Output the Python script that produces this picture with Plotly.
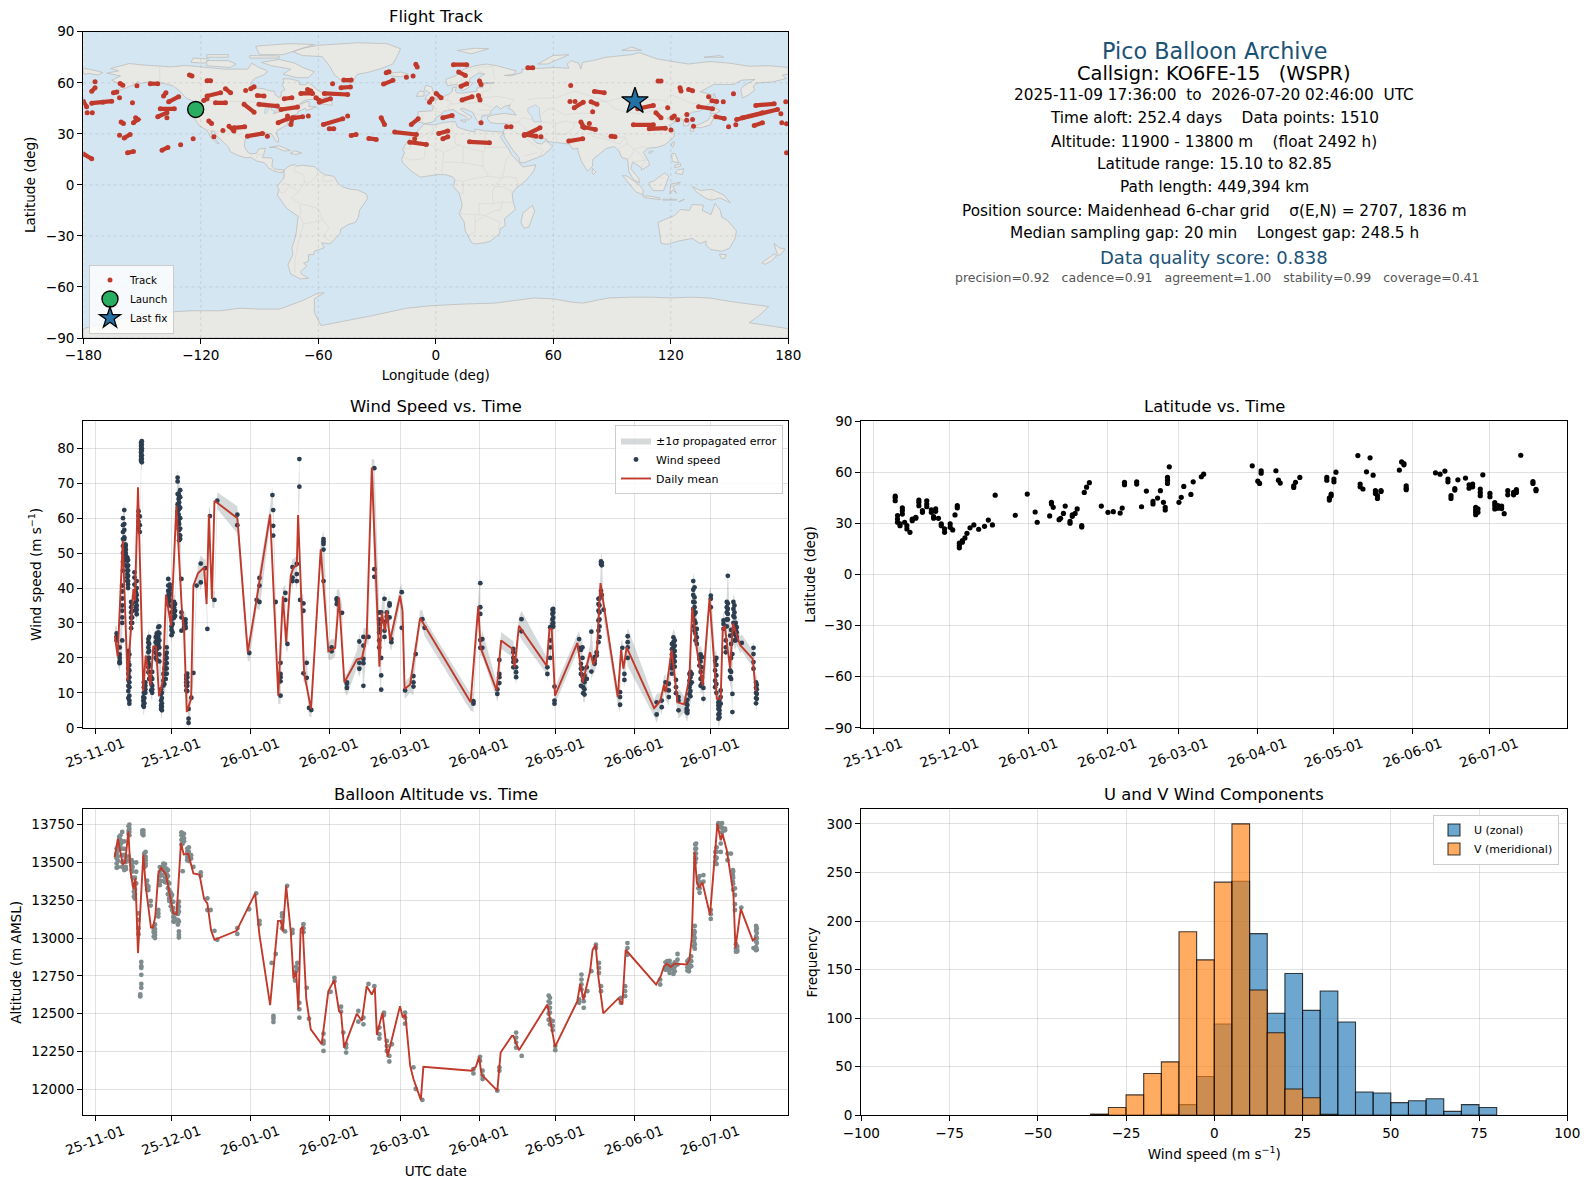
import pandas as pd
import plotly.graph_objects as go

W, H = 1589, 1189
FONT = "DejaVu Sans"
BASE = pd.Timestamp("2025-11-01")

# ---------- text panel ----------
panel_lines = [
    ("Pico Balloon Archive", 22.3, "#1a5276", 50.7, 0),
    ("Callsign: KO6FE-15\u00a0\u00a0\u00a0(WSPR)", 19.4, "#000000", 73, 0),
    ("2025-11-09 17:36:00\u00a0\u00a0to\u00a0\u00a02026-07-20 02:46:00\u00a0\u00a0UTC", 15.3, "#000000", 95.2, 0),
    ("Time aloft: 252.4 days\u00a0\u00a0\u00a0\u00a0Data points: 1510", 15.3, "#000000", 118.3, 0),
    ("Altitude: 11900 - 13800 m\u00a0\u00a0\u00a0\u00a0(float 2492 h)", 15.3, "#000000", 141.7, 0),
    ("Latitude range: 15.10 to 82.85", 15.3, "#000000", 164, 0),
    ("Path length: 449,394 km", 15.3, "#000000", 187.3, 0),
    ("Position source: Maidenhead 6-char grid\u00a0\u00a0\u00a0\u00a0\u03c3(E,N) = 2707, 1836 m", 15.3, "#000000", 210.6, 0),
    ("Median sampling gap: 20 min\u00a0\u00a0\u00a0\u00a0Longest gap: 248.5 h", 15.3, "#000000", 233, 0),
    ("Data quality score: 0.838", 18, "#1a5276", 257.4, 0),
    ("precision=0.92\u00a0\u00a0\u00a0cadence=0.91\u00a0\u00a0\u00a0agreement=1.00\u00a0\u00a0\u00a0stability=0.99\u00a0\u00a0\u00a0coverage=0.41", 12.5, "#555555", 277.7, 3.5),
]

# ---------- histogram ----------
hist_bin_left = [-35, -30, -25, -20, -15, -10, -5, 0, 5, 10, 15, 20, 25, 30, 35, 40, 45, 50, 55, 60, 65, 70, 75]
u_counts = [1, 0, 0, 0, 1, 11, 40, 94, 241, 187, 105, 146, 108, 128, 96, 24, 23, 13, 15, 17, 4, 11, 8]
v_counts = [1, 8, 21, 43, 55, 189, 160, 240, 300, 129, 85, 27, 18, 1, 0, 0, 0, 0, 0, 0, 0, 0, 0]

# ---------- wind speed: days since 2025-11-01, values m/s ----------
wind_days = [8.4, 9.6, 10.6, 11.4, 12, 12.6, 13.4, 14.5, 15.4, 16, 17, 18, 18.9, 19.7, 20.9, 22, 23.8, 24.8, 25.9, 26.8,
             27.7, 28.7, 29.7, 30.4, 31.4, 32.4, 33, 33.9, 35, 35.8, 36.7, 37.8, 38.6, 39.9, 41.5, 43.4, 44.1, 45.1, 46.9,
             48, 55.9, 60.6, 63.5, 64.6, 69.7, 70, 71, 72.9, 74.8, 75.6, 77.6, 79.3, 80.3, 80.6, 81.9, 83.2, 84.1, 85,
             89.8, 93, 95, 97.1, 99, 103.9, 105.5, 107.5, 109.8, 111.7, 112.5, 113.8, 114.7, 115.8, 116.5, 120.6, 121.9,
             125.2, 126.1, 128.7, 129.6, 148.8, 151.5, 152.3, 158.2, 159, 164.5, 165.6, 167.7, 177.9, 179, 179.9, 180.7,
             190.4, 191.1, 192, 193.4, 195.2, 196.5, 197.3, 198, 199, 200, 206.5, 207.4, 208.2, 209.5, 220.9, 222.9,
             224.4, 225.7, 227.5, 228.5, 229.5, 232.7, 233.8, 234.7, 235.8, 236.7, 237.7, 238.7, 239.3, 242.2, 243.9,
             245.2, 246.1, 247.2, 248.1, 248.9, 249.8, 250.7, 251.5, 252.4, 254.4, 259, 260.3,
             10.9, 11.9, 12.9, 13, 14.1, 16.3, 17.5, 18.3, 19.1, 19.3, 21.2, 22.4, 24.2, 25.2, 26.2, 27.2, 28.1, 28.9, 29.3, 30, 31, 32.8, 33.4, 35.5, 36.2,
             226.9, 228, 233, 234.2, 235.3, 236.2, 238.2, 244.4, 245.6, 248.5, 250.2, 251.1, 252, 260, 199.3, 198.4, 180.2, 192.5, 191.7]
wind_values = [
    [27, 26, 25], [23, 21, 20, 19, 18.7, 18.5], [40.7, 39, 37, 35, 33.5, 31.6, 30, 25], [62.3, 58.3, 56.6, 54.5, 54],
    [52, 51, 50, 48.8], [48.8, 47.8, 46, 45, 44, 43, 42], [21, 18, 16.4, 14.5, 13, 11.6, 9.2, 7.8, 6.9], [35.4, 33.5, 31.6, 30],
    [44.5, 43, 41], [38.8, 37, 36, 34.5, 33.5], [62, 60.7, 59, 57], [81.6, 80.7, 79.8, 78.8, 77.8, 76.9, 76.4], [8.8, 7.8, 6.4],
    [13, 12, 11, 10], [25.4, 24.5, 23, 21.6, 20, 18.8, 17.3, 15.9], [14.5, 12.6, 10.7], [26, 24.5, 23, 21.6, 20], [28.8, 27.3, 26, 24],
    [11, 9.7, 7.8, 6.4, 5.4], [15.4, 13.5, 12.1], [21, 19.7, 18.3, 16.9, 15.4, 14], [42.6, 40.7, 39.2, 37.8, 35.9], [40, 38.3, 36.4],
    [34.5, 31.6, 29.7, 27.3], [35.4, 33.5, 32], [71.6, 70.5, 66.9, 64, 62], [66.4, 64.5, 62.6, 58.3, 56.6, 55.2, 53.7], [42.6, 33, 31.6, 27.8],
    [30.5, 29.7, 28.8], [15, 14, 13, 12, 10.7], [5.4, 2.6, 1.4], [8.6], [15.7], [40.7], [41.6, 47], [45.7], [28.3], [60.6], [36.6],
    [65], [61, 58], [21.4], [36.6], [42.9, 40.7, 36], [66.6], [62.3, 57.8, 55], [36], [18.6, 15.4, 14.5, 13.3, 9.2], [38.6, 36.6], [24],
    [46, 43, 42], [46.9, 44, 42], [76.9, 69], [36.6], [35.6, 33.5, 15.6], [18.6, 14.3], [5.7], [5.1],
    [54, 53.3, 52.6, 51, 42], [23, 21.9], [37, 36.6, 35.4], [32.9], [13, 12.6, 11.4], [24.7, 18.6, 16.9], [26, 23.5, 19.7, 18.5, 12], [26],
    [74.3, 45.4, 43.2], [33, 31, 29.7, 28.3, 27.3, 25, 23], [33, 20, 15, 10.9], [36.9, 30.2, 27.8, 26], [33, 31.8, 30.7], [35.6, 35, 31.6], [25.4, 24.5],
    [38.8, 28.6], [10.7], [14.8, 13, 11.8], [21.1], [31.1], [28.6],
    [7.6, 6.9], [41.4, 34.5, 32.6, 25.1, 22.9], [25.4, 22.9], [11, 9.7], [19.4, 15.4, 14.5, 12.8], [22.6, 21.6, 20, 18.8, 17.3], [19.2, 17.3, 15.9, 14.5],
    [31.1, 27.6], [17.3, 15.4], [28.8, 25, 23, 20], [33.8, 32.6, 31, 29.7, 28.8], [11.8, 7.8, 6.9],
    [25.4, 22.9], [22.3, 18.3, 16.9, 15.4, 12], [14.5, 13.5, 11.6, 9.9], [17.3, 14], [27.5, 16.1], [20.2, 19.2, 18.3], [21.6, 20.7],
    [36.9, 35.4, 33.5, 30.7, 27.8, 24.5], [47.6, 46.9, 39.2], [33.8], [10.2, 8.8, 6.6], [22.9], [15.4, 13.7], [26.2, 24.5, 23, 20], [7.3, 3.8], [7.8, 5.9],
    [13, 11], [12.6, 10.7, 8.8], [25.9, 24.5, 23, 21.6, 20, 18.8], [13.7, 11.6, 9.9], [8.8, 7.8, 5], [6.9, 5.4, 4.5], [15.4, 13.5, 11.6, 9.7], [15.4, 13],
    [40.2, 37.3, 35.9, 34.5, 32.6, 30.7, 27.8], [28.3, 25.9, 24], [20.7, 19.7, 17.8], [20.2, 17.3, 14.5, 12.6], [11.4, 8.3], [37.8, 36.9, 34.5], [19.2, 16.4, 13.5, 11.6],
    [7.3, 6.4, 5.4, 3.8, 2.6], [10.7, 8.8, 6.9], [30.7, 29.7, 28.3], [25, 23, 21.6], [43.5, 35.6, 34, 32.6, 31], [26.4, 16.4, 14.5], [21.1, 9.7, 4.5],
    [35, 33, 31.6, 29.7, 25], [28.8, 27.3, 26], [24.3], [22.9, 21.1, 18.8, 16.9], [12.3, 11, 9.7, 8.3],
    [60, 58, 56, 54, 52, 50, 47.5, 45], [52.5, 51, 49.5, 48, 46.5], [48, 46.5, 45, 43.5, 42, 41, 40], [22, 20, 19, 17, 15.5, 13.7, 12, 10.5, 8.5], [36, 34.5, 33, 31.5, 30, 28.5],
    [42, 40, 38, 36.5, 35, 33.8, 32.5], [56, 58, 60.5], [82, 81, 80, 79.3, 78, 77, 76], [13, 11.5, 10, 8.5, 7.2, 6], [12, 10, 8.5, 7], [26, 24, 22, 20, 18, 16, 14], [16, 14, 12, 11, 10],
    [27, 25.5, 24, 22.5, 21, 19.5], [29, 27, 25, 23, 21, 19], [10, 8.5, 7, 6, 5], [17, 15.5, 14, 12.5], [23, 21.5, 20, 18.5, 17, 15.5], [39, 38, 37, 36.5, 35], [41, 39.5, 38], [33, 31, 29, 28, 26.5],
    [36, 34.5, 33, 31.5], [67, 65.5, 63.5, 61, 59, 57], [68, 66, 63, 60, 57, 55, 54], [31, 30, 29, 28.5], [15.5, 14.5, 13, 12, 10.5],
    [24, 22.5, 21, 19.5, 18, 17, 15.5], [25, 23.5, 22, 20.5, 19, 17.5], [8, 6.5, 5, 4.2], [16, 14.5, 12.5, 10.5, 9], [42, 39.5, 38, 36, 34, 32, 29], [33, 30, 27, 25], [21, 19, 16, 14, 12],
    [20, 18, 15, 12.5, 10], [8, 7, 6, 5, 4, 3], [36, 34.5, 33, 31, 29], [28, 24, 20, 16, 14], [36, 34, 32, 30, 27], [30, 28, 26.5, 25], [13, 11.5, 10, 8.5, 7], [47.2, 46.5, 38],
    [37, 35, 33, 31, 29, 26], [34, 33, 31.5, 30, 29], [15, 13, 11, 9.5], [23, 20, 17, 15],
]
wind_mean_days = [7.7, 8.8, 10.8, 12.7, 15, 15.6, 16.8, 18.9, 19.8, 21.7, 22.8, 23.9, 25.1, 26.6, 27.8, 29.8, 31.9, 34, 34.9, 36, 37.7,
                  38.6, 40.4, 42.8, 43.8, 44.7, 45.9, 46.9, 55.9, 60, 63.5, 68.8, 72, 73.8, 75.1, 76.9, 78, 79.3, 79.8, 82.2, 84.9, 88.7,
                  91.7, 94.4, 95.9, 98, 102.9, 105, 106.8, 108.8, 111.8, 112.7, 114, 114.7, 116, 119.9, 120.9, 121.7, 123.9, 127.8, 147.7,
                  150.7, 151.6, 157.9, 159.7, 164.1, 165, 166.7, 177.6, 178.7, 179.6, 180.9, 189.7, 191.8, 194.7, 196, 197.3, 198.8, 205.6,
                  206.9, 207.8, 209.1, 219.9, 222.3, 223.8, 224.5, 226.8, 229.1, 231.7, 233.8, 234.9, 236.7, 239, 241.7, 244.6, 246.1,
                  246.9, 247.7, 249.8, 250.9, 253.7, 258.7, 259.9]
wind_mean_values = [26.4, 20.4, 53.5, 13.5, 39.7, 36.4, 68.8, 10.5, 20.7, 12.1, 23.2, 23.2, 9, 13.5, 38.1, 29.2, 63.5, 34.5, 28.3, 4.5, 8.3,
                    40.7, 44.2, 45.9, 35.4, 60.9, 36.9, 65, 60, 21.6, 36.9, 61.1, 9.2, 37.6, 24.5, 43.5, 45.9, 46.4, 60.9, 15.4, 5.4, 51.1,
                    21.9, 22.9, 37.3, 13, 19.5, 20, 26.4, 74.5, 17.5, 33, 27.8, 33.5, 25, 37.8, 33.5, 11.1, 12.4, 31.4, 7.3,
                    34.8, 23, 10.7, 25, 22.6, 17.3, 29.2, 17.8, 28.3, 28.3, 9.2, 24.3, 13, 21.6, 18.1, 20.7, 41.4, 8.8,
                    22.3, 16.9, 23, 5.6, 7.6, 12.4, 10.2, 22.4, 7.3, 6.7, 14.5, 34.5, 22.6, 12.1, 37, 8.3, 8.3,
                    28.3, 29.2, 16.9, 29.9, 23.7, 19.7, 10.5]
wind_sigma = 2.4

# ---------- altitude ----------
alt_days = [8.4, 9.4, 10.6, 12, 13.4, 14.3, 15.2, 16.1, 17, 18.1, 17.7, 18.9, 19.8, 20.9, 21.8, 23, 24.8, 26.1, 26.8, 28, 29.1, 30.2, 31.1,
            32.9, 34.4, 36.2, 37.7, 38.6, 41.5, 44.1, 45.4, 46.9, 48, 55.9, 60.5, 63.3, 64.6, 69.4, 70.1, 71, 73.5, 74.7, 75.5, 77.6, 78.6,
            79.5, 80.3, 81.9, 83.2, 84.1, 89.8, 92.6, 94.1, 96.7, 97.6, 98.7, 103.5, 105.5, 107.5, 109.8, 111.8, 113.6, 114.7, 115.7, 116.7,
            121.9, 125.2, 126.1, 128.7, 148.8, 151.4, 152.4, 158.2, 159, 165.6, 167.8, 178.9, 180, 181, 190.4, 191.3, 192.2, 193.6, 195.2,
            197, 198.2, 199, 206.8, 208.5, 209.4, 222.3, 225.1, 226.5, 227.5, 229.1, 233, 234.5, 235.6, 236.4, 237.3, 239.3, 242.2, 244,
            245.2, 246.1, 247.8, 248.8, 250.1, 250.9, 251.7, 252.6, 254.2, 259, 260.3,
            8.9, 9.9, 11.4, 13.1, 14.7, 15.6, 18.5, 19.3, 20.4, 23.5, 25.4, 27.4, 28.6, 29.7, 30.7, 32.5, 33.9, 34.9, 36.8, 79, 235.9, 236.1, 226, 228, 233.6, 237.8, 244.5, 246.6,
            251, 252.1, 260, 178.4, 224.4]
alt_values = [
    [13592, 13559, 13526, 13493, 13465], [13669, 13647, 13614], [13702, 13636, 13592, 13548, 13504, 13471], [13537, 13504, 13471, 13456],
    [13750, 13724, 13702, 13680], [13515, 13482, 13450], [13395, 13351, 13307, 13274], [13500, 13439, 13362], [13164, 13121, 13066, 13026],
    [12842, 12814, 12803, 12757, 12697, 12671], [12627, 12614], [13713, 13697, 13680], [13570, 13537, 13515, 13493, 13478], [13340, 13318], [13246, 13215],
    [13077, 13055, 13039, 13011], [13186, 13164, 13143], [13471, 13450, 13417, 13377], [13493, 13471, 13450], [13460, 13428, 13395, 13368],
    [13362, 13318, 13263, 13246], [13285, 13241, 13186], [13164, 13136, 13110], [13241, 13208, 13175, 13110, 13044, 13022, 13004],
    [13691, 13669, 13647, 13625, 13443], [13592, 13570, 13537, 13515], [13548, 13526], [13471], [13434, 13412], [13263, 13186], [13186], [13048], [12989],
    [13066, 13028], [13191], [13296], [13114, 13092], [12836], [12485, 12469, 12445], [12895], [13164, 13143, 13110, 13066], [13044], [13346], [13055, 13033],
    [12759, 12719], [12836, 12798], [12572, 12529, 12474], [13092, 13066, 13039], [12671], [12467], [12368, 12320, 12303, 12254], [12645], [12737, 12715],
    [12546, 12513], [12375], [12298, 12276, 12243], [12518, 12447], [12474, 12430], [12697], [12682], [12408, 12364, 12336], [12507, 12491], [12320, 12287, 12254],
    [12221, 12184], [12298], [12507, 12474, 12434], [12145], [12002], [11930], [12134, 12105], [12215, 12189], [12123, 12090, 12068], [11991], [12145, 12123],
    [12375, 12342, 12309, 12276], [12221], [12605, 12572, 12539, 12507, 12463, 12430], [12452, 12419, 12390], [12287, 12259], [12594, 12572], [12759, 12726, 12693, 12660],
    [12616, 12583, 12539], [12649], [12781], [12956, 12934], [12836, 12803, 12770], [12682, 12649], [12605, 12572], [12682, 12649, 12616], [12967, 12934, 12890],
    [12726, 12693], [12847, 12814, 12792], [12825, 12803], [12792, 12763], [12895, 12857, 12825], [12847, 12807, 12785], [12879, 12847, 12814], [13048, 13022, 12978, 12945],
    [13625, 13592, 13559, 13526], [13395, 13362, 13329], [13417, 13373], [13186, 13158, 13127], [13570, 13537, 13504], [13760, 13746], [13735, 13625, 13570], [13724, 13713],
    [13559, 13515], [13559], [13450, 13417, 13373], [13329, 13285, 13224, 13186], [12945, 12923, 12912], [13202], [12934], [13066, 13033, 12999, 12967, 12923],
    [13610, 13580, 13540, 13510, 13470], [13680, 13650, 13620, 13590], [13640, 13590, 13550, 13510, 13470, 13450], [13740, 13710, 13690, 13540, 13510], [13500, 13470, 13440, 13400],
    [13400, 13360, 13320, 13290, 13260], [13710, 13690], [13560, 13530, 13500, 13470], [13380, 13350, 13320], [13090, 13060, 13040, 13020, 13000], [13470, 13440, 13410, 13380, 13350],
    [13490, 13460, 13430, 13400, 13370], [13450, 13410, 13370, 13330, 13290], [13300, 13270, 13240, 13210], [13240, 13200, 13170, 13140, 13110], [13220, 13190, 13160, 13120, 13090],
    [13700, 13680, 13650, 13620], [13690, 13660, 13640], [13600, 13570, 13540, 13510], [12810, 12780], [13080, 13040, 13000, 12960, 12930], [13620, 13590, 13560, 13530, 13500],
    [12850, 12820, 12790, 12770], [12840, 12810, 12780], [12860, 12830, 12800, 12780], [13410, 13370, 13330, 13300], [13600, 13570, 13530, 13490], [13760, 13730, 13700],
    [13440, 13400, 13360, 13320], [12960, 12930, 12910], [13080, 13050, 13010, 12980, 12940, 12920], [12620, 12580, 12540, 12500, 12460], [12840, 12810, 12790],
]
alt_mean_days = [7.6, 8.9, 10.8, 11.8, 13, 13.9, 15, 15.8, 16.8, 18.9, 19.8, 21.9, 22.7, 23.6, 24.8, 25.9, 27.8, 30.7, 32, 33.7, 34.8, 36.6, 38.6,
                 41, 42.8, 44.1, 45.6, 46.9, 55.6, 62.9, 64.6, 68.8, 71.9, 73, 73.8, 75.1, 76.9, 78, 79, 79.9, 80.8, 81.6, 83, 84.8, 89.1, 91.7,
                 94, 95.9, 96.7, 97.9, 102.9, 104.9, 106.8, 108.8, 110, 110.8, 113, 115, 119.9, 121, 122, 123.9, 125.2, 128.1, 129.1, 131.8, 148.1,
                 149.8, 151, 152, 158.2, 159.5, 163.9, 164.5, 166.7, 177.9, 180.9, 189.7, 190.8, 192.1, 194.7, 195.7, 196.9, 198, 199.9, 205.8, 207.4,
                 208.7, 220.7, 222.5, 223.8, 224.9, 226.5, 227.9, 232.7, 233.8, 234.7, 235.8, 236.7, 237.6, 238.9, 241.9, 244.8, 246.1, 246.8, 248.5,
                 251.1, 251.9, 254, 258.7, 259.9]
alt_mean_values = [13533, 13658, 13487, 13504, 13706, 13434, 13325, 13395, 12901, 13553, 13351, 13070, 13070, 13143, 13428, 13465, 13421, 13164, 13158, 13629, 13553, 13557, 13428,
                   13421, 13259, 13230, 13048, 12989, 13048, 13296, 13022, 12557, 13114, 13114, 13044, 13346, 13044, 12732, 12781, 12529, 13059, 13077, 12601, 12397, 12298, 12649,
                   12722, 12518, 12507, 12276, 12500, 12452, 12682, 12627, 12671, 12360, 12507, 12215, 12550, 12474, 12496, 12156, 12068, 11930, 12149, 12145, 12123,
                   12151, 12215, 12097, 11991, 12243, 12353, 12353, 12259, 12561, 12281, 12583, 12697, 12594, 12781, 12923, 12956, 12737, 12502, 12601, 12561,
                   12923, 12693, 12748, 12814, 12831, 12809, 12831, 12825, 12857, 13000, 13570, 13373, 13333, 13368, 13153, 13757, 13647, 13691, 13581,
                   13296, 12934, 13193, 12985, 13004]

# ---------- latitude ----------
lat_days = [8.6, 9.5, 10.5, 11.4, 12.3, 13.2, 14.4, 15.3, 16.7, 17.9, 19.3, 21, 22.8, 23.7, 24.5, 25.6, 26.7, 28, 30.2, 31.2, 32.1, 33, 33.8, 35, 36, 36.8, 38,
            39.5, 41.4, 43.7, 45.2, 46.8, 47.9, 55.8, 60.5, 63.6, 64.4, 69.3, 70, 70.7, 73, 73.6, 74.7, 75.4, 77.3, 78.2, 79.3, 80.1, 81.9, 82.9, 83.8, 84.9, 89.6,
            92.2, 94.3, 97, 97.8, 98.7, 103.5, 105.4, 107.3, 109.9, 111.7, 112.8, 114, 114.7, 115.6, 116.3, 120.1, 121, 122, 124.8, 125.7, 128.9, 129.8, 148.9,
            151.1, 151.8, 152.4, 158.2, 159.2, 159.9, 165.2, 165.9, 167.6, 178.2, 179.2, 179.9, 181, 181.8, 190.4, 191.3, 192.4, 193.8, 195.2, 196.4, 197.3, 198.1,
            199.5, 206.7, 207.6, 208.5, 209.4, 220.9, 222.7, 224.6, 225.8, 227, 228.5, 229.7, 232.7, 234.1, 235.5, 236.7, 237.6, 238.5, 239.5, 242.3, 244.2, 245.5,
            246.9, 247.9, 249.3, 251.6, 252.7, 254.4, 259.2, 260.4]
lat_values = [[46, 45, 43.2], [34.5, 32.5, 30.6], [29.6, 28.6], [39, 37.4, 35.4], [30.6], [28.6, 26.7], [24.7], [32.5, 31.5], [33.5, 33], [43.6, 42.3, 40.3], [37.4, 36.4],
              [43.2, 41.3, 39.7], [37.8, 36.4], [33.9, 33], [38.4, 37], [32.9], [29.6, 28.6], [26.7, 24.7], [29.6, 27.6], [26.1], [34.9], [40.3, 39], [18.3, 16.9, 15.6], [19.8, 18.9],
              [21.4], [24.1], [27.3], [29], [26.5], [28.2], [31.9], [29], [46.5], [34.7], [47.1], [36.6], [30.6], [34.3], [42.3, 41.3], [39.3], [32.1], [32.9], [35.8], [40.1], [31.1, 30],
              [34.1, 35], [35.8], [38.4], [28.6, 27.8], [48.1], [51.2], [53.8], [40.1], [36.4], [36.8], [36], [38.9], [54, 52.6], [54.3, 53], [39.7], [48.9], [42.8, 41.3], [44.8], [49.1],
              [42.3], [39.3, 37.8], [56.9, 55.3, 53.4], [63.1], [42.3], [45.2], [51.6], [46.9], [54.3], [57.3], [58.8], [63.7], [54.7], [53.4], [60.8, 59.4], [60.8], [55.3], [53.6], [51, 52],
              [54], [56.9], [56.9, 55.3], [44.8, 43.6], [47.1, 46.2], [55.9, 54.3], [60], [69.7], [53, 51.4], [50.1], [60.2], [68.4], [58.2], [49.1, 47.5], [46.2, 44.6], [49.1, 48.7], [61.2],
              [66], [65, 64.3], [52, 50.6, 49.7], [59.6], [58.8], [60.6], [55.9, 54.3], [46.2, 44.6], [50.4, 49.5], [55.5], [56.5], [52.6, 50.6], [53, 51.4], [39.3, 37.8, 36.4, 35], [38.4, 36.4],
              [50.1, 48.1, 46.2], [58.4], [47.5, 45.6], [42.1, 40.3, 38.4], [40.3, 38.8], [40.1, 38.6], [35.6], [49.1, 46.7], [48.1, 46.7], [49.7, 48.1], [69.9], [54.5, 53.4], [49.9, 49.1]]

# ---------- flight track strokes (lon, lat) ----------
track_strokes = [
    [(-180, 49.2), (-178.3, 45.9)], [(-175.7, 48), (-170, 48.5), (-165.5, 49.2)], [(-178, 42.4)], [(-175.4, 42.4)], [(-174, 60.6)], [(-175.7, 55), (-174, 57)],
    [(-164.6, 54.1), (-162.9, 54.5)], [(-161.2, 59.6), (-159.8, 58.6)], [(-161.5, 51.2)], [(-154.9, 48.2)], [(-152.6, 58.2)], [(-145.8, 59.4), (-142, 59.4)],
    [(-139, 52.2), (-137.8, 54.1)], [(-136.4, 48.8), (-131.3, 51.8)], [(-140.7, 44.7), (-133.5, 44.7)], [(-142, 40), (-137.3, 42.4)], [(-137.3, 39.4)],
    [(-160.7, 36.9), (-159.5, 36.1)], [(-154.4, 36.5), (-152.1, 38.4), (-153.3, 39.4)], [(-161.5, 29.2)], [(-159.1, 27.6), (-156.1, 29.6)], [(-157.4, 18.8), (-154.4, 19.6)],
    [(-139.8, 20.4), (-136.8, 22)], [(-130.3, 23.5)], [(-123.9, 27.1)], [(-125.8, 64.5), (-124.5, 64)], [(-116.8, 61.2), (-115, 61.2)], [(-118.5, 49.6), (-116.8, 50.6)],
    [(-116.8, 52.2), (-109.9, 54.1)], [(-107.4, 56.5), (-104.8, 54.1)], [(-97.1, 55.5)], [(-94.5, 56.5), (-92.8, 57.6)], [(-112.5, 48.2), (-107.4, 48.2)],
    [(-97.9, 47.3), (-92.8, 42.7)], [(-115.9, 37.5), (-114.5, 36.1)], [(-113.3, 28.2)], [(-108.7, 32)], [(-105.6, 34.5), (-103.1, 31.6)], [(-103.1, 33.5), (-97.6, 34.1)],
    [(-96.2, 28.6), (-88.5, 30.2)], [(-86, 28.6)], [(-91.1, 52.5), (-87.7, 52.2)], [(-90.3, 47.3), (-80.9, 46.3)], [(-77.4, 50.6), (-73.5, 51.2)], [(-79.1, 44.3), (-70.6, 45.7)],
    [(-80.5, 36.5), (-75.7, 38.8)], [(-75.7, 40.4)], [(-74, 35.5), (-73.2, 39.4)], [(-72.3, 39.4), (-68, 40)], [(-65.1, 40.4)], [(-68.9, 53.7), (-62.9, 53.7)], [(-65.5, 56.1), (-63.8, 55.1)],
    [(-61.2, 51.2), (-59.5, 49.6)], [(-59.5, 48.6), (-53.8, 50.6)], [(-56.9, 53.7), (-45, 53.1)], [(-48.4, 57.1), (-43.6, 57.5)], [(-52.7, 59.4)], [(-47, 61.6), (-43.2, 61.6)],
    [(-57.4, 35.5), (-47.5, 38.8)], [(-45, 40.4)], [(-54.4, 32.9), (-52.1, 32.9)], [(-43.2, 29), (-40.7, 29.6)], [(-34.2, 27.3), (-30.4, 26.7)], [(-25.3, 65.9), (-23.9, 66.5)],
    [(-26.7, 59.2), (-21.9, 61.4)], [(-15, 63.3)], [(-11.6, 63.9)], [(-10.2, 70.8), (-9.5, 69.2)], [(-27.9, 39.4), (-26.2, 35.5)], [(-12.5, 35.5), (-9, 38.8)], [(-21, 31), (-9.9, 29.6)],
    [(-13.3, 25.1), (-4.8, 23.7)], [(-10.8, 27.1)], [(-180, 18.2), (-175.7, 15.3)], [(-3.2, 48.6), (-1.9, 50.6)], [(0.2, 53.7), (2.7, 51.2)], [(9, 70.6), (15.8, 70.6)],
    [(11.7, 66.3), (15.1, 64.3)], [(12.9, 58), (15.8, 59.4)], [(22.3, 61), (23.1, 59)], [(13.4, 49.8), (18.5, 51.8)], [(21.8, 52.5), (22.6, 49.8)], [(3.6, 39.4), (8.3, 40.8)], [(23.1, 36.5)],
    [(1.5, 30.2), (6.1, 31.6)], [(3.6, 27.1), (6.1, 28.2)], [(17.2, 25.3), (27.4, 24.7)], [(36.2, 34.1)], [(38.4, 34.1)], [(45.2, 29), (53.2, 33.5)], [(45.2, 29.6), (51.2, 28.6)], [(53.7, 28.2)],
    [(47, 68.8), (49.5, 68.8)], [(68.9, 58.4)], [(68.5, 49)], [(71.1, 49)], [(70.7, 45.3), (75.3, 48.6)], [(79.3, 48.8), (82.3, 47.3)], [(81, 54.9), (86, 54.1)], [(80.1, 42.9)],
    [(74.1, 36.9), (75.9, 33.5)], [(75, 34.1), (81.5, 32.5)], [(78.4, 36.1)], [(67.9, 25.7), (75, 27.1)], [(89.5, 28.6), (91.5, 28.2)], [(113.5, 61), (115, 61)], [(124.7, 57.1), (125.2, 55.1)],
    [(129.1, 56.1), (131.1, 55.3)], [(103.1, 44.7), (111.1, 46.7)], [(112.4, 42.4), (115, 39.4)], [(118.4, 45.3)], [(100.9, 35.3), (111.1, 35.3)], [(109, 32.9), (117.2, 33.3)], [(120.1, 32.2)],
    [(120.6, 39.4), (121.8, 40.4)], [(123.5, 38.2)], [(128.2, 41.4)], [(128.1, 38)], [(131.1, 38.4)], [(131.6, 34.5)], [(139.3, 51.8)], [(141, 49.4), (143.4, 49)], [(146.8, 48.8)], [(152, 53.5)],
    [(134.2, 45.9), (141.3, 44.7)], [(143, 40), (147.3, 39)], [(149.5, 34.1)], [(153.2, 35.3)], [(153.6, 38.4), (174.5, 44.3)], [(156.6, 39.4), (166.8, 42.4)], [(163.4, 46.7), (172.8, 47.6)],
    [(162.6, 34.9), (166.8, 36.5)], [(176.2, 41.8)], [(178.7, 48.8)], [(176.7, 36.5)], [(179.1, 35.9)], [(179.1, 18.8)],
]
launch_lon, launch_lat = [-122.6], [44.3]
last_lon, last_lat = [101.7], [49.2]

# ---------- base map outlines (lon, lat) ----------
land_outlines = [
    # North and Central America
    [(-168, 65.6), (-162, 67), (-166, 68.4), (-160, 70.5), (-156.5, 71.3), (-150, 70.5), (-141, 69.7), (-135, 69.3), (-128, 70.2), (-124, 69.8), (-115, 68.5), (-108, 68), (-100, 68), (-96, 68), (-94, 71.5),
     (-90, 68.8), (-87, 67.5), (-86, 66.5), (-88, 64.5), (-92.5, 62.5), (-94.5, 60), (-94.5, 58.8), (-92.5, 57), (-88, 56.5), (-85, 55.3), (-82.3, 55), (-82, 52.9), (-80, 51.3), (-79, 52), (-79, 54.5), (-77, 56),
     (-78.5, 58.5), (-77.5, 60), (-78, 62.4), (-74, 62.2), (-70, 61), (-69.5, 58.8), (-66.5, 58.8), (-65, 60.2), (-62, 57.5), (-60, 55.5), (-56, 53), (-56, 51.6), (-60, 50.2), (-65, 50.2), (-67.5, 49.3), (-70, 47),
     (-65, 49.2), (-64.5, 47.5), (-65, 46), (-61, 45.8), (-64, 44.5), (-66, 43.7), (-66.5, 45), (-69, 44), (-70.5, 43), (-70.5, 41.7), (-74, 40.6), (-75.5, 38.5), (-76, 37), (-75.7, 35.3), (-78, 33.9), (-81, 32),
     (-81.5, 30.5), (-80.3, 27), (-80.3, 25.3), (-81.5, 25.5), (-82.8, 28), (-84, 30), (-86, 30.5), (-89, 30.3), (-90, 29.2), (-92, 29.6), (-94.5, 29.5), (-97, 28), (-97.5, 25.5), (-97.8, 22.5), (-96, 19.2), (-94.5, 18.2),
     (-91.5, 18.5), (-90.5, 21), (-87, 21.5), (-87.7, 18.5), (-88.7, 16), (-84, 15.8), (-83.3, 14.8), (-83.7, 11), (-82.5, 9.3), (-80, 9.2), (-77.5, 8.7), (-78, 7.3), (-80.3, 7.4), (-82.8, 8.2), (-85.5, 10), (-87.5, 13),
     (-91.5, 14), (-94.5, 16.2), (-97, 15.9), (-101, 17.3), (-105, 19.5), (-105.7, 22), (-109, 25.7), (-112.5, 29.5), (-113, 31.2), (-114.8, 31.7), (-114.2, 29), (-110.5, 24), (-112, 24.8), (-115, 28), (-116.8, 32),
     (-120.5, 34.5), (-122.5, 37.7), (-124.3, 40.5), (-124, 46.3), (-123, 48.8), (-127.5, 51), (-130.5, 54.7), (-134, 58), (-139.5, 59.8), (-146, 60.8), (-151, 59.5), (-152, 60.8), (-154, 59), (-158, 57), (-163, 54.8),
     (-160, 58.5), (-162.5, 60), (-165.5, 61.5), (-161, 64), (-168, 65.6)],
    # Greenland and the Arctic islands
    [(-73, 78.2), (-68, 80.3), (-60, 82), (-40, 83.5), (-25, 83), (-18, 80), (-20, 75), (-22, 71), (-28, 68.3), (-35, 66), (-40, 65), (-43, 60), (-48, 61), (-52, 65), (-54, 69.5), (-58, 75.3), (-68, 76), (-73, 78.2)],
    [(-80, 73.7), (-72, 71.5), (-68, 69), (-62, 66.5), (-65, 63), (-71, 63), (-78, 65), (-74, 68), (-84, 70), (-89, 72), (-80, 73.7)],
    [(-117, 70), (-105, 69), (-102, 71), (-106, 73), (-117, 73), (-117, 70)],
    [(-90, 76.5), (-78, 76.5), (-62, 82.5), (-75, 83), (-92, 81.5), (-90, 76.5)],
    [(-125, 72), (-118, 71.5), (-116, 74), (-124, 74.5), (-125, 72)],
    [(-95, 74.5), (-80, 74.5), (-80, 75.7), (-95, 76), (-95, 74.5)],
    [(-117, 75), (-106, 75), (-106, 76.5), (-117, 76.5), (-117, 75)],
    [(-59, 47.7), (-53, 46.7), (-53, 49), (-56, 51.5), (-59, 47.7)],
    [(-85, 22), (-80, 23), (-74.2, 20.2), (-77.5, 19.9), (-82, 22), (-85, 22)],
    [(-74.3, 18.5), (-72, 20), (-68.5, 18.7), (-71.5, 17.8), (-74.3, 18.5)],
    [(-24, 65.5), (-18, 66.3), (-14, 65), (-18, 63.5), (-22.5, 64), (-24, 65.5)],
    [(-180, 68.5), (-175, 67.5), (-170, 66), (-172.5, 64.5), (-177, 65.5), (-180, 65), (-180, 68.5)],
    # South America
    [(-77.5, 8.7), (-75, 11), (-72, 12), (-71, 11), (-68, 11.5), (-62, 10.7), (-60, 8.5), (-57, 6), (-52, 5), (-50, 1), (-48, -1), (-44, -2.5), (-40, -3), (-35.5, -5.3), (-34.8, -8), (-37, -11.5), (-39, -15), (-39.5, -19),
     (-41, -22), (-45, -23.5), (-48.5, -26), (-48.8, -28.5), (-52, -32.5), (-54, -34.7), (-58.3, -34), (-57, -37), (-62, -39), (-62.5, -41), (-65, -41), (-65, -45), (-67.5, -46), (-65.8, -47.5), (-69, -51), (-68.5, -52.5),
     (-65, -54.8), (-69, -55.3), (-74, -52.5), (-75.5, -47), (-73, -41), (-73.5, -37), (-71.5, -30), (-70.3, -18.5), (-76, -14), (-81, -6), (-80, -3), (-81, -1), (-79, 2), (-77.5, 4), (-77.5, 7), (-77.5, 8.7)],
    # Africa
    [(-6, 35.8), (-1, 35.2), (5, 36.8), (10, 37.3), (11, 34), (15, 32.3), (20, 31), (20, 32.8), (25, 31.7), (32, 31.2), (34.5, 31), (33, 28), (35.5, 24), (37.2, 21), (38.5, 18), (41, 15), (43.3, 12.5), (44.5, 10.5), (51, 11.8),
     (50, 8), (46, 2.5), (41, -2), (39, -5), (39.5, -10), (40.7, -14.5), (35, -20), (35.5, -24), (32.8, -26), (32.5, -28.7), (28, -33), (25, -34), (20, -34.8), (18.3, -34), (15, -27), (14.5, -22), (12, -17), (13.5, -12), (12, -5),
     (9, -1), (9.8, 3), (8.5, 4.7), (5, 6), (1, 6), (-4, 5.2), (-8, 4.5), (-13, 8.5), (-16.5, 12.5), (-17.5, 14.7), (-16, 19), (-17, 21), (-13, 27.8), (-9.7, 31), (-6, 35.8)],
    [(49.3, -12), (50.5, -15.5), (47.5, -24.8), (45, -25.5), (43.5, -22), (44.5, -16.5), (49.3, -12)],
    # Eurasia
    [(-9, 37), (-9.3, 39), (-9, 43), (-2, 43.5), (-1, 46), (-4.5, 48.3), (-1.5, 49), (2, 51), (4, 52), (7, 53.5), (8.5, 55), (8.5, 57), (10.5, 57.6), (10, 55), (11, 54), (14, 54), (18.5, 54.7), (21, 55), (21, 57), (24, 57.2), (24, 59.3),
     (30, 60), (23, 60), (21.5, 61), (22, 63), (25, 65.2), (22, 65.7), (17.5, 62.5), (17, 60.5), (19, 59.8), (16.5, 57), (14, 55.5), (13, 55.5), (11.5, 58.7), (10, 59), (6, 58.2), (5, 62), (10, 64), (14.5, 68), (20, 70), (26, 71), (31, 70),
     (41, 67), (40, 65), (35, 64.3), (38, 64), (44, 66), (44, 68), (54, 68.5), (60, 69), (68, 68.5), (67, 71), (69, 73), (73, 71.5), (74, 68), (75, 72), (80, 73), (87, 75), (100, 76.5), (104, 77.7), (113, 74), (129, 71), (140, 72.5),
     (150, 71.5), (160, 69.7), (170, 70), (180, 69), (180, 65), (177, 64.5), (179, 62.5), (172, 60.5), (163.5, 59.8), (162, 57.5), (163, 56), (160, 53), (156.7, 51), (155.7, 56), (157, 58), (163, 62), (156, 61.5), (152, 59), (142, 59),
     (135, 54.7), (141, 53), (140, 48), (135, 43.5), (130.5, 42.5), (127.5, 39.8), (129.5, 37), (129, 35), (126.5, 34.5), (126.5, 37.5), (125, 39.5), (121, 39), (121.5, 41), (118, 39), (122.5, 37), (119, 35), (122, 31), (121.5, 28),
     (117, 23.5), (113, 22), (108, 21.5), (106, 19), (109, 13), (109, 11.5), (105, 8.7), (105, 10), (100.5, 13.5), (99.5, 9.5), (103.5, 4), (104, 1.3), (101, 3), (98.5, 8), (98, 15), (95, 16), (93.5, 20), (91, 22.5), (87, 21.3), (85, 19.5),
     (80.2, 15), (80, 11), (77.5, 8), (74.5, 13.5), (72.8, 19), (72.5, 21.5), (70, 21), (68, 24), (61.5, 25), (57, 25.5), (56.5, 27), (52, 27.5), (50, 30), (48, 30), (48.5, 28.5), (50, 26.5), (51.5, 24.5), (54, 24), (56.3, 26), (58.7, 23.5),
     (59.8, 22.5), (55, 17.5), (52, 16), (45, 13), (43, 13), (42.5, 16), (39, 21), (35, 28), (34.8, 29.5), (34.5, 31), (36, 36), (32, 36), (28, 36.5), (26.5, 38.5), (26.5, 40), (29, 41), (35, 42), (41, 41), (39, 44), (37, 45), (38, 47), (35, 46),
     (33, 44.5), (31, 46.5), (28, 43), (28, 41.5), (26, 40.8), (23.5, 40.5), (23, 37), (21.5, 37), (19.5, 41), (19, 42.5), (14, 45), (12.5, 44.5), (16, 41.5), (18.5, 40), (16.5, 38), (15.5, 40), (11, 42.5), (8.8, 44.3), (4, 43.3), (3, 41.5),
     (0, 39.5), (-0.5, 38), (-2, 36.8), (-5.5, 36), (-9, 37)],
    # Islands of Europe and Asia
    [(-5.5, 50), (1.5, 51.2), (1.5, 52.7), (-1.5, 55), (-2, 57.5), (-5, 58.6), (-6, 56), (-3, 54), (-5, 52), (-5.5, 50)],
    [(-10, 52), (-6, 52.2), (-6, 55), (-8.5, 55), (-10, 52)],
    [(11, 79), (20, 80.3), (27, 80), (18, 77), (11, 79)],
    [(52, 71), (57, 71), (68, 76.5), (60, 76), (52, 71)],
    [(95, 79), (105, 79), (100, 81), (95, 79)],
    [(137, 75), (147, 75), (145, 76), (137, 75)],
    [(142, 54), (143.5, 50), (143, 46.2), (142, 47), (142, 54)],
    [(130.8, 34), (135, 33.5), (140, 35), (142, 39.5), (140.5, 41), (139, 38), (135, 35.7), (130.8, 34)],
    [(140, 42), (143, 42), (145.3, 43.5), (142, 45.5), (140, 42)],
    [(130, 31.5), (131.7, 31.5), (131.5, 33.8), (130, 33.3), (130, 31.5)],
    [(120.2, 23), (121, 22), (122, 25), (121, 25.2), (120.2, 23)],
    [(109, 18.3), (111, 19.7), (110, 20), (108.7, 19.3), (109, 18.3)],
    [(120.5, 18.5), (122.3, 18.3), (124, 13), (120.7, 13.8), (120.5, 18.5)],
    [(122, 7), (126, 6), (126.5, 9.5), (123.5, 8.7), (122, 7)],
    [(122, 10), (125, 11), (125, 12.5), (122, 11.5), (122, 10)],
    [(95.3, 5.5), (97.5, 5.2), (103.8, 0), (106, -3), (105.7, -5.8), (102, -4), (98.5, 1), (95.3, 5.5)],
    [(105.5, -6.5), (108.5, -6.5), (114.5, -7.7), (114.5, -8.7), (106.5, -7.5), (105.5, -6.5)],
    [(109, 1.5), (111, 2), (116.8, 7), (119, 5), (117.7, 1), (116.3, -3.5), (111, -3.3), (109, 0), (109, 1.5)],
    [(119.5, -5.5), (120, 0.5), (125, 1.5), (121, -1), (123, -5), (121, -3), (119.5, -5.5)],
    [(131, -1), (135, -3.3), (141, -2.7), (147, -6), (150.5, -10.5), (145, -7.7), (141, -9), (138, -8), (133, -4), (131, -1)],
    [(116, -8.5), (123, -8.5), (123, -9), (116, -9), (116, -8.5)],
    [(124, -10), (127, -8.5), (126, -9), (124, -10)],
    [(80, 9.7), (81.8, 7.5), (80.5, 6), (79.8, 7.5), (80, 9.7)],
    [(12.5, 38), (15.5, 38.2), (15, 36.7), (12.5, 38)],
    [(8.3, 41), (9.7, 41), (9.5, 39), (8.5, 39), (8.3, 41)],
    # Oceania
    [(113.5, -22), (114, -26), (115, -34.3), (118, -35), (124, -33), (131, -31.5), (135, -34.5), (138, -33), (138, -35.5), (140.5, -38), (146, -39), (150, -37.3), (153, -31), (153.5, -27), (149, -21), (146, -19), (145.3, -15), (142.5, -11),
     (141.5, -15), (140.5, -17.5), (136, -15), (136.8, -12), (131, -11.5), (129.5, -15), (125, -14.5), (122, -18), (116, -20.8), (113.5, -22)],
    [(144.8, -40.8), (148.3, -41), (147.5, -43.3), (146, -43.5), (144.8, -40.8)],
    [(172.7, -34.5), (175.5, -37), (178.4, -37.8), (176, -41), (175, -41.5), (174, -39.5), (172.7, -34.5)],
    [(172.7, -40.6), (174.3, -41.5), (171, -45), (168, -46.7), (166.5, -45.8), (172.7, -40.6)],
    # Antarctica
    [(-180, -90), (-180, -84.5), (-165, -80), (-155, -77.5), (-140, -75), (-125, -74), (-110, -74), (-100, -72.5), (-90, -73), (-80, -73), (-75, -71), (-68, -68), (-60, -63.5), (-57, -63.5), (-62, -67), (-62, -75), (-58.6, -82.7),
     (-33, -77), (-15, -72.5), (-2, -71), (15, -70), (30, -69.5), (40, -68), (50, -66.5), (60, -67), (70, -69), (75, -69.5), (88, -66.5), (100, -66), (110, -66), (120, -66.5), (130, -66), (140, -66.5), (150, -68.5), (160, -70), (170, -71.5),
     (165, -77), (160, -81), (180, -84.5), (180, -90), (-180, -90)],
]
lake_outlines = [
    [(47, 45), (51, 47), (53, 45), (53, 41), (54, 37), (50, 37), (49, 40), (47, 43), (47, 45)],
    [(-92, 46.7), (-88, 48.5), (-85, 47.5), (-87, 46.5), (-92, 46.7)],
    [(-87.5, 42), (-86.5, 42), (-85, 45.8), (-87, 45.5), (-87.5, 42)],
    [(-84, 46), (-80.5, 45), (-82, 43), (-84, 44), (-84, 46)],
    [(-83, 41.7), (-79, 42.8), (-79, 43.2), (-83, 42.3), (-83, 41.7)],
    [(-79.5, 43.3), (-76.5, 43.4), (-76.5, 44), (-79.5, 43.7), (-79.5, 43.3)],
]
border_lines = [
    [(-123, 49), (-95, 49), (-89, 48), (-83, 46), (-82.5, 42.5), (-79, 43), (-75, 45), (-71, 45), (-67.5, 47.3)],
    [(-141, 69.7), (-141, 60.5), (-135, 59), (-130, 55)],
    [(-117, 32.5), (-111, 31.3), (-106.5, 31.7), (-101, 29.7), (-97.5, 26)],
    [(-92, 14.7), (-91, 17.8), (-89, 17.9), (-88.5, 16)],
    [(-71.5, 12), (-72.5, 8), (-67.5, 6), (-67, 1.5), (-70, -4), (-74, -7.5), (-69.5, -11), (-69, -16), (-69.5, -18)],
    [(-60, 8.5), (-61, 5), (-65, 1), (-67, 1.5)], [(-57, 6), (-58, 2), (-52, 2.5)], [(-78, 1), (-75, 0), (-70, -4)], [(-81, -3.5), (-78, -5), (-75, -1)],
    [(-69.5, -18), (-67.5, -23), (-70, -33), (-72, -45), (-72, -52)], [(-58, -20), (-62.5, -22), (-67.5, -23)], [(-58, -20), (-54.5, -25.5), (-57.5, -30), (-53.5, -33.5)], [(-69, -11), (-60, -14), (-58, -20)],
    [(-2, 35), (-1, 32), (-8.5, 27.5), (-13, 27.8)], [(9, 37), (8, 33), (9.5, 30), (10, 24), (12, 23.5), (14, 22.5), (24, 19.5), (25, 20), (25, 31.7)], [(-1, 32), (-5, 25), (4, 19), (12, 23.5)], [(25, 22), (37, 22)],
    [(-17, 21), (-13, 21.5), (-13, 23.5), (-5, 25)], [(-5, 25), (-6, 15.5), (-12, 14.5), (-16.5, 16)], [(4, 19), (3.5, 12), (3, 6.5)], [(4, 13.5), (14, 13), (14, 22.5)], [(14, 13), (24, 11), (24, 19.5)],
    [(24, 11), (27, 5), (34, 4), (35.5, 5), (41, 4), (42, 1), (41, -2)], [(34, 4), (30, -1), (29, -4), (29, -9), (30, -11), (22, -11), (22, -17.7), (12, -17)], [(9.8, 3), (14, 2), (18, 3.5), (27, 5)], [(14, 2), (14, -5), (12, -5)],
    [(36, 15), (38, 17.5)], [(36, 15), (35, 10), (34, 4)], [(30, -1), (34, -1), (40, -4.5)], [(30, -11), (34, -10), (40, -10.5)], [(22, -17.7), (25, -18), (33, -22), (32, -26)], [(20, -18), (20, -28), (17, -29)], [(25, -18), (20, -22)], [(34, -10), (33, -15), (30, -15), (25, -18)],
    [(2, 51), (6, 49.5), (8, 49), (7.5, 47.5), (6, 46), (7, 44), (3, 42.5), (-2, 43.5)], [(7, 53.5), (6, 51), (6, 49.5)], [(14, 54), (15, 51), (13, 48.5), (10, 47.5), (7.5, 47.5)], [(13, 48.5), (17, 48), (22, 48.5), (24, 51), (23.5, 54.5)],
    [(22, 48.5), (29, 45.5)], [(24, 51), (32, 52), (40, 50), (38, 47)], [(28, 41.8), (22.5, 41.2), (19.5, 42)], [(22, 44), (29, 44)], [(-7, 42), (-7, 37)], [(23.5, 54.5), (28, 56), (28, 59.5)], [(12, 60), (15, 66), (20, 69), (29, 69.5), (30, 62)], [(24, 66), (20, 69)],
    [(36, 36), (42, 37), (44.5, 39.5), (48.5, 38.5)], [(42, 37), (45, 34), (48, 30)], [(36, 33), (39, 32), (44, 29), (48, 29)], [(44, 29), (52, 22), (55, 20), (52, 16)], [(45, 17), (52, 19)],
    [(61, 37), (61, 30), (62, 25)], [(48.5, 38.5), (54, 37), (61, 36), (66, 37.5), (71, 36.5), (74, 37), (74, 33), (70, 28), (70, 24)], [(61, 30), (66, 29.5), (70, 33), (71, 36.5)], [(53, 41), (58, 45), (61, 44), (66, 41), (71, 42), (80, 42), (80, 49), (87, 49)],
    [(47, 50), (52, 51), (61, 51), (71, 55), (77, 53), (87, 49)], [(87, 49), (92, 50.5), (98, 52), (107, 50), (114, 50), (117, 49.5), (120, 53), (127, 50), (131, 47.5), (135, 48.5), (131, 44), (130.5, 42.5)], [(87, 49), (91, 45), (97, 42.7), (105, 41.7), (112, 44), (119, 47), (117, 49.5)],
    [(74, 37), (80, 35), (79, 31), (88, 28), (97, 28), (98, 24), (101, 21), (106, 22.5), (108, 21.5)], [(79, 31), (80, 28.5), (88, 26.5), (88, 28)], [(88, 26.5), (92, 25), (94, 24), (97, 28)], [(98, 24), (93, 21)], [(101, 21), (100, 17), (98, 15)], [(101, 21), (104.5, 18), (107, 14.5), (105, 10.5)], [(100.5, 13.5), (103, 14), (107, 14.5)], [(125, 39.5), (128, 42), (130.5, 42.5)], [(125, 38), (128.5, 38.5)],
    [(141, -2.7), (141, -9)], [(115, 4), (117, 4.2)],
]


def unzip_paths(paths):
    xs, ys = [], []
    for path in paths:
        xs += [p[0] for p in path] + [None]
        ys += [p[1] for p in path] + [None]
    return xs, ys


def to_dates(days):
    return [str(BASE + pd.to_timedelta(d, unit="D")) for d in days]


def flat_columns(days, columns):
    out_x, out_y = [], []
    for d, vals in zip(days, columns):
        out_x += [d] * len(vals)
        out_y += vals
    return to_dates(out_x), out_y


fig = go.Figure()

# map
map_grid_x, map_grid_y = [], []
lon_ticks = [-180, -120, -60, 0, 60, 120, 180]
lat_ticks = [-90, -60, -30, 0, 30, 60, 90]
for lo in lon_ticks:
    map_grid_x += [lo, lo, None]
    map_grid_y += [-90, 90, None]
for la in lat_ticks:
    map_grid_x += [-180, 180, None]
    map_grid_y += [la, la, None]

lx, ly = unzip_paths(land_outlines)
fig.add_trace(go.Scatter(x=lx, y=ly, mode="lines", fill="toself", fillcolor="#e8e8e4", line=dict(color="#bdbdbd", width=0.8),
                         showlegend=False, hoverinfo="skip", xaxis="x", yaxis="y"))
bx, by = unzip_paths(border_lines)
fig.add_trace(go.Scatter(x=bx, y=by, mode="lines", line=dict(color="#d9d9d6", width=0.7), showlegend=False, hoverinfo="skip", xaxis="x", yaxis="y"))
kx, ky = unzip_paths(lake_outlines)
fig.add_trace(go.Scatter(x=kx, y=ky, mode="lines", fill="toself", fillcolor="#d4e6f1", line=dict(color="#bdbdbd", width=0.6), showlegend=False, hoverinfo="skip", xaxis="x", yaxis="y"))
fig.add_trace(go.Scatter(x=map_grid_x, y=map_grid_y, mode="lines", line=dict(color="rgba(120,120,120,0.28)", width=0.7, dash="dot"), showlegend=False, hoverinfo="skip", xaxis="x", yaxis="y"))
tx, ty = unzip_paths(track_strokes)
fig.add_trace(go.Scatter(x=tx, y=ty, mode="lines", line=dict(color="#c0392b", width=4.2), showlegend=False, hoverinfo="skip", xaxis="x", yaxis="y"))
fig.add_trace(go.Scatter(x=tx, y=ty, mode="markers", marker=dict(color="#c0392b", size=5), name="Track", legend="legend2", xaxis="x", yaxis="y"))
fig.add_trace(go.Scatter(x=launch_lon, y=launch_lat, mode="markers", marker=dict(color="#27ae60", size=16, line=dict(color="black", width=1.4)), name="Launch", legend="legend2", xaxis="x", yaxis="y"))
fig.add_trace(go.Scatter(x=last_lon, y=last_lat, mode="markers", marker=dict(color="#2471a3", size=20, symbol="star", line=dict(color="black", width=1.3)), name="Last fix", legend="legend2", xaxis="x", yaxis="y"))

# wind
band = {}
for d, m in zip(wind_mean_days, wind_mean_values):
    band[d] = (m + wind_sigma, m - wind_sigma)
for d, vals in zip(wind_days, wind_values):
    band[d] = (max(vals) + wind_sigma, min(vals) - wind_sigma)
band_days = sorted(band)
band_hi = [band[d][0] for d in band_days]
band_lo = [band[d][1] for d in band_days]
fig.add_trace(go.Scatter(x=to_dates(band_days + band_days[::-1]), y=band_hi + band_lo[::-1], mode="lines", fill="toself", fillcolor="rgba(127,140,141,0.33)",
                         line=dict(width=0, color="rgba(127,140,141,0.33)"), name="\u00b11\u03c3 propagated error", xaxis="x2", yaxis="y2", legend="legend"))
wx, wy = flat_columns(wind_days, wind_values)
fig.add_trace(go.Scatter(x=wx, y=wy, mode="markers", marker=dict(color="#2c3e50", size=4.8), name="Wind speed", xaxis="x2", yaxis="y2", legend="legend"))
fig.add_trace(go.Scatter(x=to_dates(wind_mean_days), y=wind_mean_values, mode="lines", line=dict(color="#c0392b", width=1.9), name="Daily mean", xaxis="x2", yaxis="y2", legend="legend"))

# latitude
ax, ay = flat_columns(lat_days, lat_values)
fig.add_trace(go.Scatter(x=ax, y=ay, mode="markers", marker=dict(color="black", size=5.2), showlegend=False, xaxis="x3", yaxis="y3"))

# altitude
hx, hy = flat_columns(alt_days, alt_values)
fig.add_trace(go.Scatter(x=hx, y=hy, mode="markers", marker=dict(color="#7f8c8d", size=4.8), showlegend=False, xaxis="x4", yaxis="y4"))
fig.add_trace(go.Scatter(x=to_dates(alt_mean_days), y=alt_mean_values, mode="lines", line=dict(color="#c0392b", width=1.9), showlegend=False, xaxis="x4", yaxis="y4"))

# histogram
centers = [e + 2.5 for e in hist_bin_left]
fig.add_trace(go.Bar(x=centers, y=u_counts, width=5, name="U (zonal)", marker=dict(color="rgba(31,119,180,0.65)", line=dict(color="rgba(0,0,0,0.75)", width=1.1)), xaxis="x5", yaxis="y5", legend="legend3"))
fig.add_trace(go.Bar(x=centers, y=v_counts, width=5, name="V (meridional)", marker=dict(color="rgba(255,127,14,0.65)", line=dict(color="rgba(0,0,0,0.75)", width=1.1)), xaxis="x5", yaxis="y5", legend="legend3"))


def px_x(a, b):
    return [a / W, b / W]


def px_y(a, b):
    return [1 - b / H, 1 - a / H]


LEFT = (83.3, 788.3)
RIGHT = (861.3, 1567.3)
ROW1 = (31.7, 338)
ROW2 = (421, 727.8)
ROW3 = (809.3, 1115.3)

tick_font = dict(family=FONT, size=13.6, color="black")
title_font = dict(family=FONT, size=13.6, color="black")
grid = "rgba(176,176,176,0.38)"
axis_common = dict(showline=True, linecolor="black", linewidth=1.1, mirror=True, ticks="outside", ticklen=5, tickwidth=1.1, tickcolor="black", tickfont=tick_font, zeroline=False, automargin=False)

date_tick_days = [0, 30, 61, 92, 120, 151, 181, 212, 242]
date_ticks = to_dates(date_tick_days)
date_range = to_dates([-4.72, 272.7])
date_axis = dict(axis_common, type="date", range=date_range, tickvals=date_ticks, tickformat="%y-%m-%d", tickangle=-20, ticklabelshift=28, ticklabelstandoff=-3, showgrid=True, gridcolor=grid, gridwidth=1)

fig.update_layout(
    width=W, height=H, autosize=False, margin=dict(l=0, r=0, t=0, b=0, autoexpand=False), paper_bgcolor="white", plot_bgcolor="white",
    font=dict(family=FONT, color="black"), barmode="overlay", hovermode=False,
    xaxis=dict(axis_common, domain=px_x(*LEFT), range=[-180, 180], tickvals=lon_ticks, showgrid=False, anchor="y",
               title=dict(text="Longitude (deg)", font=title_font, standoff=8)),
    yaxis=dict(axis_common, domain=px_y(*ROW1), range=[-90, 90], tickvals=lat_ticks, showgrid=False, anchor="x",
               title=dict(text="Latitude (deg)", font=title_font, standoff=7)),
    xaxis2=dict(date_axis, domain=px_x(*LEFT), anchor="y2"),
    yaxis2=dict(axis_common, domain=px_y(*ROW2), range=[0, 87.8], tickvals=[0, 10, 20, 30, 40, 50, 60, 70, 80], showgrid=True, gridcolor=grid, anchor="x2",
                title=dict(text="Wind speed (m s<sup>\u22121</sup>)", font=title_font, standoff=12)),
    xaxis3=dict(date_axis, domain=px_x(*RIGHT), anchor="y3"),
    yaxis3=dict(axis_common, domain=px_y(*ROW2), range=[-90, 90], tickvals=lat_ticks, showgrid=True, gridcolor=grid, anchor="x3",
                title=dict(text="Latitude (deg)", font=title_font, standoff=5)),
    xaxis4=dict(date_axis, domain=px_x(*LEFT), anchor="y4", title=dict(text="UTC date", font=title_font, standoff=9)),
    yaxis4=dict(axis_common, domain=px_y(*ROW3), range=[11828, 13852], tickvals=[12000, 12250, 12500, 12750, 13000, 13250, 13500, 13750], tickformat="d", showgrid=True, gridcolor=grid, anchor="x4",
                title=dict(text="Altitude (m AMSL)", font=title_font, standoff=6)),
    xaxis5=dict(axis_common, domain=px_x(*RIGHT), range=[-100, 100], tickvals=[-100, -75, -50, -25, 0, 25, 50, 75, 100], showgrid=True, gridcolor=grid, anchor="y5",
                title=dict(text="Wind speed (m s<sup>\u22121</sup>)", font=title_font, standoff=9)),
    yaxis5=dict(axis_common, domain=px_y(*ROW3), range=[0, 315], tickvals=[0, 50, 100, 150, 200, 250, 300], showgrid=True, gridcolor=grid, anchor="x5",
                title=dict(text="Frequency", font=title_font, standoff=5)),
    legend=dict(x=783 / W, xanchor="right", y=1 - 425 / H, yanchor="top", font=dict(family=FONT, size=11), bgcolor="rgba(255,255,255,0.85)", bordercolor="#cccccc", borderwidth=1, tracegroupgap=0, itemclick=False),
    legend2=dict(x=89 / W, xanchor="left", y=1 - 333.5 / H, yanchor="bottom", font=dict(family=FONT, size=10.3), bgcolor="rgba(255,255,255,0.8)", bordercolor="#cccccc", borderwidth=1, tracegroupgap=0, itemclick=False),
    legend3=dict(x=1559 / W, xanchor="right", y=1 - 814.5 / H, yanchor="top", font=dict(family=FONT, size=11), bgcolor="rgba(255,255,255,0.85)", bordercolor="#cccccc", borderwidth=1, tracegroupgap=0, itemclick=False),
)

# ocean backdrop of the map
fig.add_shape(type="rect", xref="x domain", yref="y domain", x0=0, x1=1, y0=0, y1=1, fillcolor="#d4e6f1", line=dict(width=0), layer="below")

panel_titles = [("Flight Track", LEFT, ROW1), ("Wind Speed vs. Time", LEFT, ROW2), ("Latitude vs. Time", RIGHT, ROW2),
                ("Balloon Altitude vs. Time", LEFT, ROW3), ("U and V Wind Components", RIGHT, ROW3)]
for text, xs, ys in panel_titles:
    fig.add_annotation(text=text, xref="paper", yref="paper", x=(xs[0] + xs[1]) / 2 / W, y=1 - (ys[0] - 3.5) / H, xanchor="center", yanchor="bottom", showarrow=False,
                       font=dict(family=FONT, size=16.4, color="black"))
for text, size, color, y_mid, x_off in panel_lines:
    fig.add_annotation(text=text, xref="paper", yref="paper", x=((RIGHT[0] + RIGHT[1]) / 2 + x_off) / W, y=1 - y_mid / H, xanchor="center", yanchor="middle", showarrow=False,
                       font=dict(family=FONT, size=size, color=color))

fig.write_html("out.html", config=dict(displayModeBar=False), post_script="document.body.style.margin='0';document.body.style.overflow='hidden';")
